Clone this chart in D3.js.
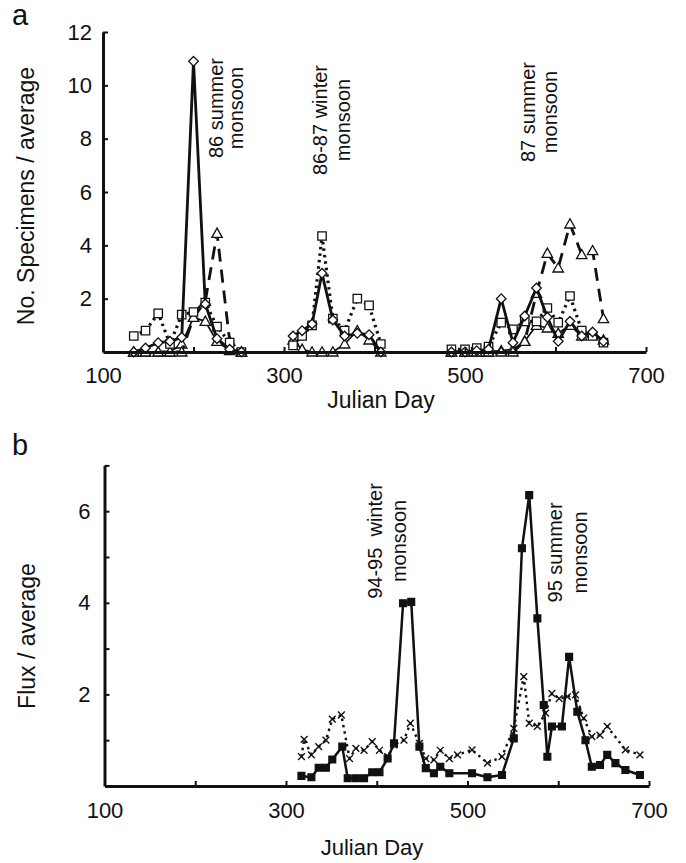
<!DOCTYPE html>
<html>
<head>
<meta charset="utf-8">
<script src="https://cdn.jsdelivr.net/npm/d3@7"></script>
<style>
  body { margin: 0; background: #fff; }
  text { font-family: "Liberation Sans", Arial, Helvetica, sans-serif; fill: #111; }
</style>
</head>
<body>
<script>
// ---- panel a : sampling days (null = gap between seasons) ----
const daysA = [134,147,161,174,187,200,213,226,240,253, null,
               310,320,331,342,354,367,381,394,407, null,
               485,500,513,526,540,553,566,579,591,603,616,629,641,653];
// solid line, open diamonds
const specDiamond = [0,0.15,0.35,0.4,0.55,10.9,1.8,0.5,0.1,0, null,
                     0.6,0.8,1.05,2.95,1.2,0.6,0.7,0.65,0, null,
                     0,0,0.05,0.1,2.0,0.35,1.35,2.4,1.3,0.4,1.15,0.6,0.75,0.4];
// dotted line, open squares
const specSquare = [0.6,0.8,1.45,0.3,1.4,1.5,1.85,0.95,0.35,0, null,
                    0.25,0.6,1.0,4.35,1.25,0.8,2.0,1.75,0.3, null,
                    0.1,0.1,0.15,0.2,1.1,0.85,1.15,1.15,1.65,1.1,2.1,0.8,0.6,0.35];
// long dashed line, open triangles
const specTriDash = [0,0,0,0,0,1.3,1.9,4.45,0.4,0, null,
                     null,null,null,null,null,null,null,null,null, null,
                     0,0,0,0,0,0,0.4,2.2,3.7,3.15,4.8,3.65,3.8,1.25];
// thin solid line, open triangles
const specTriThin = [0,0,0,0,0.3,1.3,1.15,0.4,0.05,0, null,
                     0.45,0.1,0,0,0,0.3,0.8,0.45,0, null,
                     0,0,0,0,0.05,0.1,0.4,1.0,0.9,0.7,1.0,0.6,0.7,0.45];

// ---- panel b ----
const daysFluxSq = [317,328,336,344,351,362,368,377,386,395,403,412,419,429,438,447,454,463,470,480,
                    505,522,538,551,560,568,577,584,588,593,604,612,621,630,637,646,654,663,674,690];
const fluxSq = [0.22,0.19,0.4,0.4,0.58,0.86,0.17,0.17,0.17,0.3,0.3,0.6,0.93,3.99,4.02,0.86,0.39,0.28,0.42,0.28,
                0.28,0.19,0.24,1.04,5.19,6.35,3.66,1.77,0.64,1.3,1.3,2.82,1.62,1.0,0.42,0.46,0.68,0.5,0.35,0.24];
const daysFluxX = [317,320,328,336,344,351,361,370,377,386,395,403,412,419,430,437,447,454,463,470,
                   480,489,505,522,538,551,562,568,577,586,593,601,610,619,628,637,646,654,674,690];
const fluxX = [0.64,1.02,0.68,0.86,1.0,1.46,1.55,0.6,0.82,0.78,0.97,0.78,0.64,0.9,1.0,1.37,0.93,0.6,0.57,0.78,
               0.6,0.68,0.79,0.5,0.64,1.26,2.39,1.37,1.3,1.59,2.02,1.91,1.95,1.99,1.48,1.08,1.11,1.3,0.79,0.68];

const xTicks = [100,200,300,400,500,600,700];
const annotA = [
  {day: 232.6, val: 9.15, lines: ["86 summer", "monsoon"], gap: 20},
  {day: 347.5, val: 8.7,  lines: ["86-87 winter", "monsoon"], gap: 23},
  {day: 577.3, val: 9.0,  lines: ["87 summer", "monsoon"], gap: 22}
];
const annotB = [
  {day: 406, val: 5.35, lines: ["94-95  winter", "monsoon"], gap: 24},
  {day: 604, val: 5.1,  lines: ["95 summer", "monsoon"], gap: 25}
];

const svg = d3.select("body").append("svg")
    .attr("width", 686).attr("height", 863)
    .style("background-color", "white");

function markerPath(type) {
    if (type == "diamond") return "M0,-4.8L4.8,0L0,4.8L-4.8,0Z";
    if (type == "square") return "M-4.2,-4.2h8.4v8.4h-8.4Z";
    if (type == "triangle") return "M0,-5.2L5.2,4L-5.2,4Z";
    if (type == "fsquare") return "M-3.4,-3.4h6.8v6.8h-6.8Z";
    return "M-3.4,-3.4L3.4,3.4M-3.4,3.4L3.4,-3.4"; // times
}

function drawAxes(x, y, yTicks, yLabel, xPad, yPad) {
    let gx = svg.append("g")
        .attr("transform", "translate(0," + y.range()[0] + ")")
        .call(d3.axisBottom(x).tickValues(xTicks).tickSize(-5).tickSizeOuter(0)
            .tickPadding(xPad).tickFormat(d => d % 200 == 100 ? d : ""));
    let gy = svg.append("g")
        .attr("transform", "translate(" + x.range()[0] + ",0)")
        .call(d3.axisLeft(y).tickValues(yTicks).tickSize(-5).tickSizeOuter(0)
            .tickPadding(yPad).tickFormat(yLabel));
    [gx, gy].forEach(g => {
        g.attr("font-size", 22).attr("font-family", null);
        g.select(".domain").attr("stroke", "#111").attr("stroke-width", 3);
        g.selectAll(".tick line").attr("stroke", "#111").attr("stroke-width", 2);
        g.selectAll(".tick text").attr("fill", "#111");
    });
}

function drawSeries(x, y, days, vals, style) {
    let pts = days.map((d, i) => ({day: d, v: vals[i]}));
    let line = d3.line()
        .defined(p => p.day != null && p.v != null)
        .x(p => x(p.day)).y(p => y(p.v));
    svg.append("path")
        .datum(pts)
        .attr("d", line)
        .attr("fill", "none")
        .attr("stroke", "#111")
        .attr("stroke-width", style.width)
        .attr("stroke-dasharray", style.dash)
        .attr("stroke-linejoin", "round");
    svg.append("g").selectAll("path")
        .data(pts.filter(p => p.day != null && p.v != null))
        .enter().append("path")
        .attr("transform", p => "translate(" + x(p.day) + "," + y(p.v) + ")")
        .attr("d", markerPath(style.marker))
        .attr("fill", style.marker == "fsquare" ? "#111" : (style.marker == "times" ? "none" : "white"))
        .attr("stroke", "#111")
        .attr("stroke-width", style.marker == "times" ? 1.4 : 1.3);
}

function drawAnnot(x, y, list) {
    list.forEach(a => {
        let t = svg.append("g")
            .attr("transform", "translate(" + x(a.day) + "," + y(a.val) + ") rotate(-90)");
        a.lines.forEach((l, i) => {
            t.append("text")
                .attr("x", 0).attr("y", i * a.gap)
                .attr("text-anchor", "middle")
                .attr("font-size", 20)
                .style("white-space", "pre")
                .text(l);
        });
    });
}

// ---------- panel a ----------
const xa = d3.scaleLinear().domain([100, 700]).range([103, 646]);
const ya = d3.scaleLinear().domain([0, 12]).range([352, 32]);

drawSeries(xa, ya, daysA, specTriThin, {width: 1.8, marker: "triangle"});
drawSeries(xa, ya, daysA, specTriDash, {width: 2.8, dash: "13,8", marker: "triangle"});
drawSeries(xa, ya, daysA, specSquare, {width: 3.2, dash: "2.5,4", marker: "square"});
drawSeries(xa, ya, daysA, specDiamond, {width: 2.8, marker: "diamond"});
drawAxes(xa, ya, d3.range(2, 13, 2), d => d, 15, 11);
drawAnnot(xa, ya, annotA);

svg.append("text").attr("x", 12).attr("y", 25).attr("font-size", 29).text("a");
svg.append("text").attr("x", 381).attr("y", 408).attr("text-anchor", "middle")
    .attr("font-size", 23).text("Julian Day");
svg.append("text").attr("transform", "translate(34,196) rotate(-90)")
    .attr("text-anchor", "middle").attr("font-size", 23).text("No. Specimens / average");

// ---------- panel b ----------
const xb = d3.scaleLinear().domain([100, 700]).range([104.5, 649]);
const yb = d3.scaleLinear().domain([0, 7]).range([786, 465.4]);

drawSeries(xb, yb, daysFluxX, fluxX, {width: 2.4, dash: "2.5,4", marker: "times"});
drawSeries(xb, yb, daysFluxSq, fluxSq, {width: 2.5, marker: "fsquare"});
drawAxes(xb, yb, d3.range(1, 8), d => d % 2 == 0 ? d : "", 16, 14);
drawAnnot(xb, yb, annotB);

svg.append("text").attr("x", 12).attr("y", 455).attr("font-size", 29).text("b");
svg.append("text").attr("x", 372).attr("y", 855).attr("text-anchor", "middle")
    .attr("font-size", 22).text("Julian Day");
svg.append("text").attr("transform", "translate(35,636) rotate(-90)")
    .attr("text-anchor", "middle").attr("font-size", 23).text("Flux / average");
</script>
</body>
</html>
